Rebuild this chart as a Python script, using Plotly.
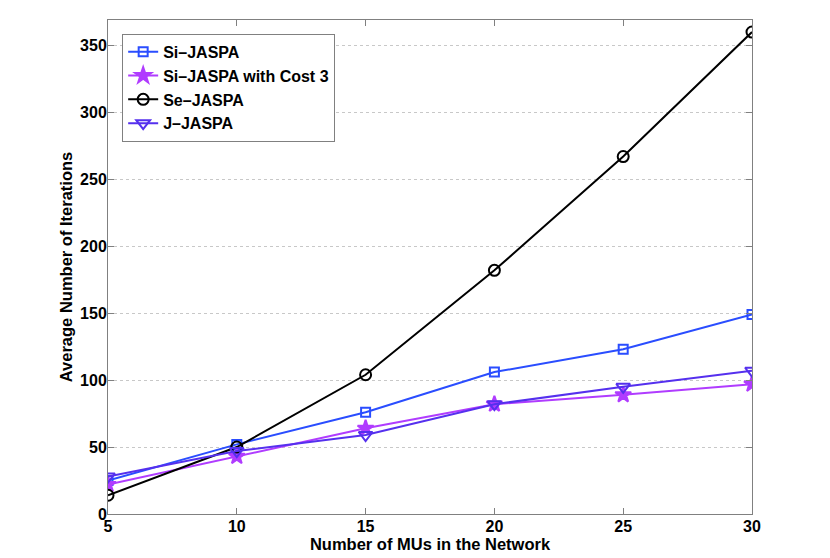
import plotly.graph_objects as go

mus = [5, 10, 15, 20, 25, 30]
si_jaspa = [25, 52, 76, 106, 123, 149]
si_jaspa_cost3 = [22, 43, 64, 82, 89, 97]
se_jaspa = [14, 50, 104, 182, 267, 360]
j_jaspa = [28, 47, 59, 82, 95, 107]

names = ["Si–JASPA", "Si–JASPA with Cost 3", "Se–JASPA", "J–JASPA"]
series = [si_jaspa, si_jaspa_cost3, se_jaspa, j_jaspa]
colors = ["#2a4dff", "#b03cff", "#000000", "#5530ee"]
symbols = ["square-open", "star", "circle-open", "triangle-down-open"]
msizes = [9, 12, 11, 12]

fig = go.Figure()
for n, s, c, sym, ms in zip(names, series, colors, symbols, msizes):
    fig.add_trace(go.Scatter(
        x=mus, y=s, name=n, mode="lines+markers",
        line=dict(color=c, width=2),
        marker=dict(symbol=sym, size=ms, color=c, line=dict(color=c, width=2)),
    ))

font_family = "Liberation Sans, Arial, sans-serif"
fig.update_layout(
    width=822, height=550,
    margin=dict(l=100, r=78, t=12, b=44),
    paper_bgcolor="white", plot_bgcolor="white",
    font=dict(family=font_family, size=16, color="black"),
    showlegend=True,
    legend=dict(
        x=0.022, y=0.972, xanchor="left", yanchor="top",
        bgcolor="white", bordercolor="#808080", borderwidth=1,
        font=dict(family=font_family, size=16, color="black", weight="bold"),
        tracegroupgap=0, itemwidth=30,
    ),
)
fig.update_xaxes(
    range=[5, 30], tickvals=mus, ticktext=[str(v) for v in mus],
    showline=True, linecolor="#808080", linewidth=1, mirror="ticks",
    ticks="inside", ticklen=6, tickcolor="#808080",
    showgrid=False, zeroline=False, automargin=False,
    ticklabelstandoff=-2,
    tickfont=dict(family=font_family, size=16, color="black", weight="bold"),
    title=dict(text="Number of MUs in the Network", standoff=0,
               font=dict(family=font_family, size=16.5, color="black", weight="bold")),
)
fig.update_yaxes(
    range=[0, 369], tickvals=[0, 50, 100, 150, 200, 250, 300, 350],
    showline=True, linecolor="#808080", linewidth=1, mirror="ticks",
    ticks="inside", ticklen=6, tickcolor="#808080",
    showgrid=True, gridcolor="#c8c8c8", griddash="dot", gridwidth=1,
    zeroline=False, automargin=False,
    ticklabelstandoff=-3,
    tickfont=dict(family=font_family, size=16, color="black", weight="bold"),
    title=dict(text="Average Number of Iterations", standoff=3,
               font=dict(family=font_family, size=16.5, color="black", weight="bold")),
)

fig.write_html("out.html")
